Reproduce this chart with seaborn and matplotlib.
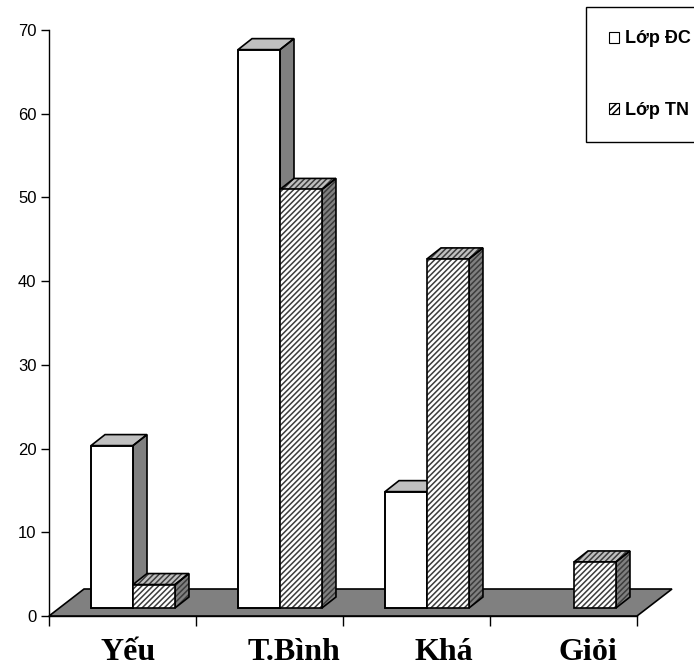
import numpy as np
import pandas as pd
import matplotlib
matplotlib.use("Agg")
import matplotlib.pyplot as plt
import seaborn as sns
from matplotlib.patches import Polygon, Patch
from matplotlib.transforms import ScaledTranslation

categories = ["Yếu", "T.Bình", "Khá", "Giỏi"]
series = ["Lớp ĐC", "Lớp TN"]
values_dc = [19.4, 66.7, 13.9, 0.0]
values_tn = [2.8, 50.0, 41.7, 5.5]
y_ticks = [0, 10, 20, 30, 40, 50, 60, 70]

sns.set_theme(style="white")
plt.rcParams["font.family"] = ["Liberation Sans", "DejaVu Sans"]
plt.rcParams["hatch.linewidth"] = 1.1
plt.rcParams["text.color"] = "black"

HATCH = "//////"
HATCH_COLOR = "#3c3c3c"

W, H = 694, 670
fig = plt.figure(figsize=(W / 100, H / 100), dpi=100)
ax_l, ax_b, ax_w, ax_h = 49, 54, 588, 586
ax = fig.add_axes([ax_l / W, ax_b / H, ax_w / W, ax_h / H])

df = pd.DataFrame({
    "cat": categories * 2,
    "val": values_dc + values_tn,
    "series": [series[0]] * len(categories) + [series[1]] * len(categories),
})
sns.barplot(data=df, x="cat", y="val", hue="series", order=categories,
            hue_order=series, palette=["white", "white"], saturation=1,
            width=0.571, edgecolor="black", linewidth=1.2, legend=False,
            dodge=True, ax=ax)

ax.set_xlim(-0.5, len(categories) - 0.5)
ax.set_ylim(0, 70)
ppx = ax_w / len(categories)      # pixels per x unit
ppy = ax_h / 70.0                 # pixels per y unit

# oblique depth offsets (pixels -> data)
shift_x, shift_y = 10.5 / ppx, 8 / ppy
dep_x, dep_y = 14 / ppx, 11 / ppy
flo_x, flo_y = 35 / ppx, 27 / ppy

floor = Polygon([(-0.5, 0), (len(categories) - 0.5, 0),
                 (len(categories) - 0.5 + flo_x, flo_y), (-0.5 + flo_x, flo_y)],
                closed=True, facecolor="#808080", edgecolor="black",
                linewidth=1.2, zorder=1, clip_on=False)
ax.add_patch(floor)


def face(pts, fc, hatched, z):
    ax.add_patch(Polygon(pts, closed=True, facecolor=fc, edgecolor="none",
                         linewidth=0, zorder=z, clip_on=False))
    if hatched:
        ax.add_patch(Polygon(pts, closed=True, fill=False, edgecolor=HATCH_COLOR,
                             linewidth=0, hatch=HATCH, zorder=z + 0.001,
                             clip_on=False))
    ax.add_patch(Polygon(pts, closed=True, fill=False, edgecolor="black",
                         linewidth=1.2, zorder=z + 0.002, clip_on=False))


bars = []
for si, cont in enumerate(ax.containers):
    for p in cont.patches:
        bars.append((p.get_x(), si, p))
bars.sort(key=lambda t: t[0])

for k, (_, si, p) in enumerate(bars):
    h = p.get_height()
    x0 = p.get_x() + shift_x
    w = p.get_width()
    base = shift_y
    if h <= 0:
        p.set_visible(False)
        continue
    p.set_x(x0)
    p.set_y(base)
    z = 3 + k * 0.1
    hatched = si == 1
    side = [(x0 + w, base), (x0 + w + dep_x, base + dep_y),
            (x0 + w + dep_x, base + h + dep_y), (x0 + w, base + h)]
    top = [(x0, base + h), (x0 + dep_x, base + h + dep_y),
           (x0 + w + dep_x, base + h + dep_y), (x0 + w, base + h)]
    face(side, "#808080", hatched, z)
    face(top, "#c0c0c0", hatched, z)
    p.set_zorder(z + 0.05)
    p.set_clip_on(False)
    if hatched:
        p.set_edgecolor(HATCH_COLOR)
        p.set_linewidth(0)
        p.set_hatch(HATCH)
    ax.add_patch(Polygon([(x0, base), (x0 + w, base), (x0 + w, base + h), (x0, base + h)],
                         closed=True, fill=False, edgecolor="black", linewidth=1.2,
                         zorder=z + 0.06, clip_on=False))

# axes styling
for s in ["top", "right"]:
    ax.spines[s].set_visible(False)
for s in ["left", "bottom"]:
    ax.spines[s].set_color("black")
    ax.spines[s].set_linewidth(1.0)
    ax.spines[s].set_zorder(0.5)

ax.set_yticks(y_ticks)
ax.set_yticklabels([str(v) for v in y_ticks], fontsize=12, color="black")
ax.tick_params(axis="y", direction="out", length=6, width=1, pad=3,
               colors="black", left=True)
ax.set_xticks(range(len(categories)))
ax.set_xticklabels(categories, fontsize=23, fontweight="bold",
                   family=["Liberation Serif", "DejaVu Serif"], color="black")
ax.set_xticks(np.arange(-0.5, len(categories)), minor=True)
ax.tick_params(axis="x", which="major", length=0, pad=16)
ax.tick_params(axis="x", which="minor", direction="out", length=7, width=1,
               colors="black", bottom=True)
ax.set_xlabel("")
ax.set_ylabel("")
ax.grid(False)

# category labels sit slightly to the right (3-D depth placement)
label_dx_px = [6, 24, 27, 24]
for lab, dxp in zip(ax.get_xticklabels(), label_dx_px):
    lab.set_transform(lab.get_transform() +
                      ScaledTranslation(dxp / 100, 0, fig.dpi_scale_trans))

handles = [Patch(facecolor="white", edgecolor="black", linewidth=0.8),
           Patch(facecolor="white", edgecolor="black", linewidth=0.8, hatch="/////")]
leg = fig.legend(handles, series, loc="upper left",
                 bbox_to_anchor=(586 / W, 1 - 7 / H), frameon=True,
                 fancybox=False, edgecolor="black", framealpha=1,
                 prop={"weight": "bold", "size": 13}, handlelength=0.55,
                 handleheight=0.55, handletextpad=0.3, labelspacing=3.0,
                 borderpad=1.3, borderaxespad=0)
leg.get_frame().set_linewidth(1.0)
for t in leg.get_texts():
    t.set_color("black")

fig.savefig("out.png", dpi=100)
